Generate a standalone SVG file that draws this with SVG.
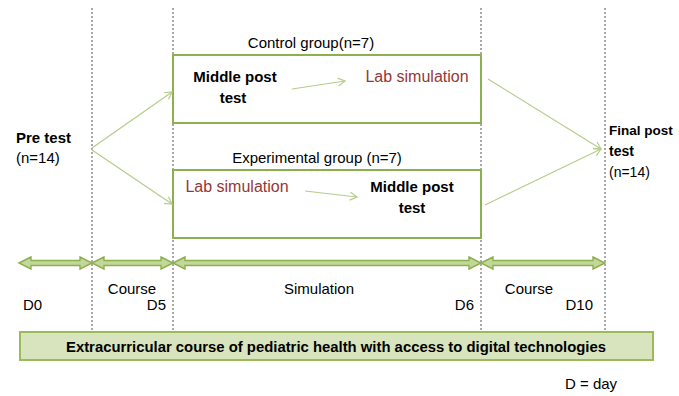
<svg xmlns="http://www.w3.org/2000/svg" width="679" height="396" viewBox="0 0 679 396">
<style>
text{font-family:"Liberation Sans",Arial,sans-serif;font-size:15px;fill:#000}
.b{font-weight:bold}
.r{fill:#953735;font-size:16px}
.fp{font-size:14px}
.dash{stroke:#555;stroke-width:1;stroke-dasharray:2,2}
.box{fill:#fff;stroke:#8db04f;stroke-width:2}
.ln{stroke:#b5cc8a;stroke-width:1.2;fill:none;marker-end:url(#ah)}
.dbl{fill:#c4d79b;stroke:#8db04f;stroke-width:1.4}
</style>
<defs>
<marker id="ah" markerWidth="10" markerHeight="10" refX="8" refY="5" orient="auto" markerUnits="userSpaceOnUse">
<path d="M1,1 L8,5 L1,9" fill="none" stroke="#b5cc8a" stroke-width="1.2"/>
</marker>
</defs>
<g id="timeline-dashes">
<line class="dash" x1="92" y1="8" x2="92" y2="330"/>
<line class="dash" x1="173" y1="8" x2="173" y2="330"/>
<line class="dash" x1="481" y1="8" x2="481" y2="330"/>
<line class="dash" x1="605" y1="8" x2="605" y2="330"/>
</g>
<g id="pretest">
<text class="b" x="16" y="143">Pre test</text>
<text x="16" y="163">(n=14)</text>
</g>
<g id="control">
<text x="311" y="48" text-anchor="middle">Control group(n=7)</text>
<rect class="box" x="173" y="55" width="308" height="68"/>
<text class="b" x="235" y="82" text-anchor="middle">Middle post</text>
<text class="b" x="233" y="103" text-anchor="middle">test</text>
<text class="r" x="417" y="82" text-anchor="middle">Lab simulation</text>
</g>
<g id="experimental">
<text x="317" y="163" text-anchor="middle">Experimental group (n=7)</text>
<rect class="box" x="173" y="170" width="308" height="68"/>
<text class="r" x="237" y="192" text-anchor="middle">Lab simulation</text>
<text class="b" x="412" y="192" text-anchor="middle">Middle post</text>
<text class="b" x="412" y="213" text-anchor="middle">test</text>
</g>
<g id="finalpost">
<text class="b" x="609" y="135" style="font-size:13.5px">Final post</text>
<text class="b fp" x="609" y="156">test</text>
<text class="fp" x="609" y="177">(n=14)</text>
</g>
<g id="connectors">
<line class="ln" x1="92" y1="148" x2="172" y2="92"/>
<line class="ln" x1="92" y1="150" x2="172" y2="204"/>
<line class="ln" x1="292" y1="89" x2="345" y2="81"/>
<line class="ln" x1="305" y1="191" x2="357" y2="197"/>
<line class="ln" x1="488" y1="79" x2="601" y2="149"/>
<line class="ln" x1="485" y1="205" x2="601" y2="149"/>
</g>
<g id="phase-arrows">
<path class="dbl" d="M19,263 L31,257 L31,260.5 L80,260.5 L80,257 L92,263 L80,269 L80,265.5 L31,265.5 L31,269 Z"/>
<path class="dbl" d="M92,263 L104,257 L104,260.5 L161,260.5 L161,257 L173,263 L161,269 L161,265.5 L104,265.5 L104,269 Z"/>
<path class="dbl" d="M173,263 L185,257 L185,260.5 L469,260.5 L469,257 L481,263 L469,269 L469,265.5 L185,265.5 L185,269 Z"/>
<path class="dbl" d="M481,263 L493,257 L493,260.5 L593,260.5 L593,257 L605,263 L593,269 L593,265.5 L493,265.5 L493,269 Z"/>
</g>
<g id="phase-labels">
<text x="23" y="310">D0</text>
<text x="132" y="294" text-anchor="middle">Course</text>
<text x="166" y="310" text-anchor="end">D5</text>
<text x="319" y="294" text-anchor="middle">Simulation</text>
<text x="474" y="310" text-anchor="end">D6</text>
<text x="529" y="294" text-anchor="middle">Course</text>
<text x="593" y="310" text-anchor="end">D10</text>
</g>
<g id="course-bar">
<rect x="20" y="332" width="633" height="28" fill="#d7e4bd" stroke="#9bbb59" stroke-width="2"/>
<text class="b" x="336" y="352" text-anchor="middle" textLength="540" lengthAdjust="spacingAndGlyphs">Extracurricular course of pediatric health with access to digital technologies</text>
</g>
<g id="legend">
<text x="565" y="389">D = day</text>
</g>
</svg>
